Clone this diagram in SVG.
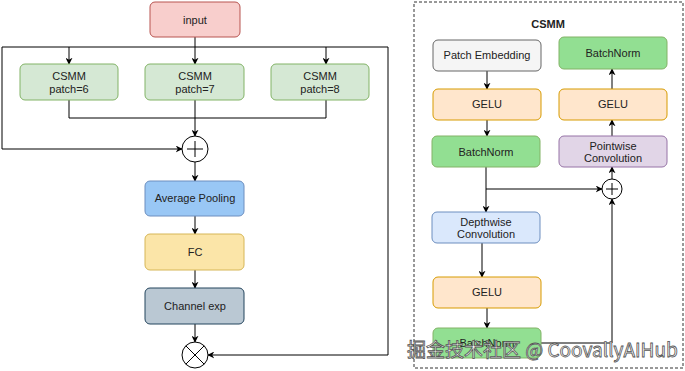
<svg xmlns="http://www.w3.org/2000/svg" width="685" height="371" viewBox="0 0 685 371">
<defs>
<marker id="ah" viewBox="0 0 10 10" refX="9" refY="5" markerWidth="7" markerHeight="7" orient="auto-start-reverse" markerUnits="userSpaceOnUse">
<path d="M0,0 L10,5 L0,10 L3,5 Z" fill="#000"/>
</marker>
<style>
text{font-family:"Liberation Sans",Arial,sans-serif;font-size:11px;fill:#222;text-anchor:middle;dominant-baseline:central}
.ln{fill:none;stroke:#000;stroke-width:1}
.ar{fill:none;stroke:#000;stroke-width:1;marker-end:url(#ah)}
.green{fill:#d5e8d4;stroke:#82b366}
.bn{fill:#92df92;stroke:#82b366}
.gelu{fill:#ffe6cc;stroke:#d79b00}
.blue{fill:#dae8fc;stroke:#6c8ebf}
.circ{fill:#fff;stroke:#000;stroke-width:1}
.wm{font-family:"Noto Sans CJK SC","Liberation Sans",sans-serif;font-size:19px;fill:#fff;stroke:#555;stroke-width:0.8;text-anchor:start;dominant-baseline:alphabetic}
</style>
</defs>
<rect width="685" height="371" fill="#fff"/>

<g id="connectors">
<path class="ln" d="M195,37 V47"/>
<path class="ln" d="M2,47 H388"/>
<path class="ar" d="M69,47 V64"/>
<path class="ar" d="M195,47 V64"/>
<path class="ar" d="M326,47 V64"/>
<path class="ln" d="M69,100 V118 H326 V100"/>
<path class="ln" d="M195,100 V118"/>
<path class="ar" d="M195,118 V136"/>
<path class="ar" d="M2,47 V149 H182"/>
<path class="ar" d="M195,162 V181"/>
<path class="ar" d="M195,216 V234"/>
<path class="ar" d="M195,270 V288"/>
<path class="ar" d="M195,324 V342"/>
<path class="ar" d="M388,47 V355 H208"/>

<path class="ar" d="M487,71 V89"/>
<path class="ar" d="M487,120 V136"/>
<path class="ln" d="M486,167 V189"/>
<path class="ar" d="M486,189 H602"/>
<path class="ar" d="M486,189 V212"/>
<path class="ar" d="M482,243 V277"/>
<path class="ar" d="M487,308 V328"/>
<path class="ar" d="M541,343 H612 V199"/>
<path class="ar" d="M612,179 V167"/>
<path class="ar" d="M612,136 V120"/>
<path class="ar" d="M612,89 V69"/>
</g>

<g id="input"><rect x="150" y="2" width="90" height="35" rx="5" fill="#f8cecc" stroke="#b85450"/><text x="195" y="20">input</text></g>
<g id="csmm6"><rect class="green" x="20" y="64" width="98" height="36" rx="5"/><text x="69" y="76">CSMM</text><text x="69" y="89">patch=6</text></g>
<g id="csmm7"><rect class="green" x="145" y="64" width="99" height="36" rx="5"/><text x="195" y="76">CSMM</text><text x="195" y="89">patch=7</text></g>
<g id="csmm8"><rect class="green" x="271" y="64" width="98" height="36" rx="5"/><text x="320" y="76">CSMM</text><text x="320" y="89">patch=8</text></g>
<g id="plus1"><circle class="circ" cx="195" cy="149" r="13"/><path class="ln" d="M187,149 H203 M195,141 V157" stroke-width="1.3"/></g>
<g id="avgpool"><rect x="145" y="181" width="99" height="35" rx="5" fill="#99c7f5" stroke="#6c8ebf"/><text x="195" y="198">Average Pooling</text></g>
<g id="fc"><rect x="145" y="234" width="99" height="36" rx="5" fill="#fbe5a8" stroke="#d6b656"/><text x="195" y="252">FC</text></g>
<g id="chexp"><rect x="145" y="288" width="99" height="36" rx="5" fill="#bac8d3" stroke="#23445d"/><text x="195" y="306">Channel exp</text></g>
<g id="mul"><circle class="circ" cx="195" cy="355" r="13"/><path class="ln" d="M185.8,345.8 L204.2,364.2 M204.2,345.8 L185.8,364.2"/></g>

<g id="csmm-frame"><rect x="414" y="2" width="269" height="366" fill="none" stroke="#333" stroke-dasharray="3,2"/><text x="548" y="24" font-weight="bold">CSMM</text></g>
<g id="patchemb"><rect x="433" y="40" width="108" height="31" rx="5" fill="#f5f5f5" stroke="#666"/><text x="487" y="55">Patch Embedding</text></g>
<g id="gelu1"><rect class="gelu" x="433" y="89" width="108" height="31" rx="5"/><text x="487" y="104">GELU</text></g>
<g id="bn1"><rect class="bn" x="432" y="136" width="108" height="31" rx="5"/><text x="486" y="152">BatchNorm</text></g>
<g id="dwconv"><rect class="blue" x="432" y="212" width="108" height="31" rx="5"/><text x="486" y="222">Depthwise</text><text x="486" y="234">Convolution</text></g>
<g id="gelu2"><rect class="gelu" x="433" y="277" width="108" height="31" rx="5"/><text x="487" y="292">GELU</text></g>
<g id="bn2"><rect class="bn" x="433" y="328" width="108" height="30" rx="5"/><text x="487" y="343">BatchNorm</text></g>
<g id="plus2"><circle class="circ" cx="612" cy="189" r="10"/><path class="ln" d="M606,189 H618 M612,183 V195" stroke-width="1.3"/></g>
<g id="pwconv"><rect x="559" y="136" width="108" height="31" rx="5" fill="#e1d5e7" stroke="#9673a6"/><text x="613" y="146">Pointwise</text><text x="613" y="158">Convolution</text></g>
<g id="gelu3"><rect class="gelu" x="559" y="89" width="108" height="31" rx="5"/><text x="613" y="104">GELU</text></g>
<g id="bn3"><rect class="bn" x="559" y="37" width="108" height="32" rx="5"/><text x="613" y="53">BatchNorm</text></g>

<text class="wm" x="407" y="357">掘金技术社区 @ CoovallyAIHub</text>
</svg>
